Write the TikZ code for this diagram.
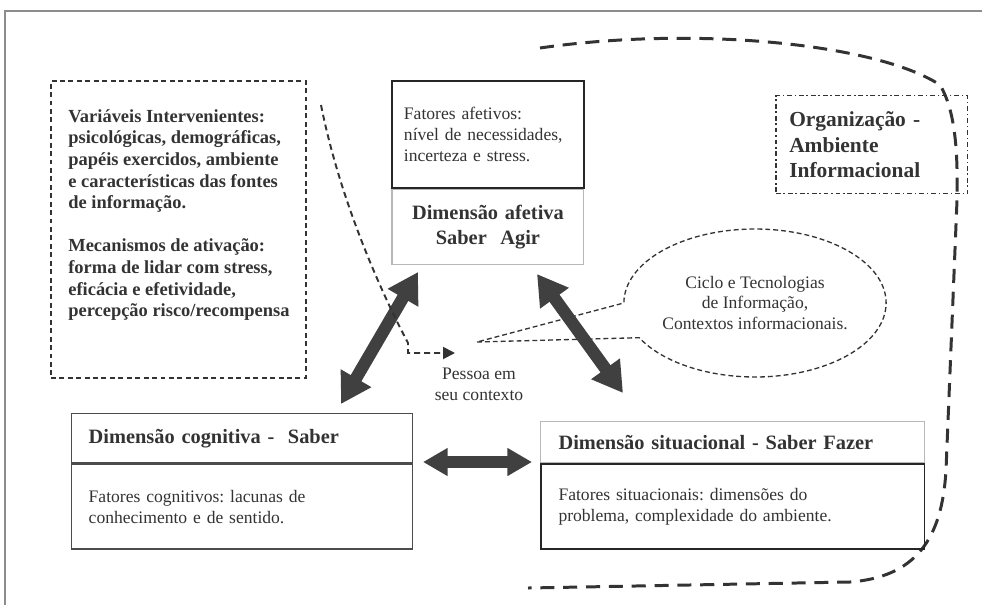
\documentclass[tikz,border=0pt]{standalone}
\usepackage{fontspec}
\setmainfont{Liberation Serif}
\usetikzlibrary{positioning,arrows.meta,shapes.callouts}
\frenchspacing
\hyphenpenalty=10000

\definecolor{inkgray}{HTML}{333333}
\definecolor{arrowgray}{HTML}{404040}
\definecolor{framegray}{HTML}{8C8C8C}
\definecolor{lightline}{HTML}{B8B8B8}

\tikzset{
  bodytext/.style={font=\fontsize{10}{11.9}\selectfont, text=inkgray},
  headtext/.style={font=\fontsize{11.6}{14}\selectfont\bfseries, text=inkgray},
  darkbox/.style={draw=black!85, line width=1.1pt, anchor=north west, inner sep=0pt, align=left, bodytext},
  lightbox/.style={draw=lightline, line width=0.6pt, anchor=north west, inner sep=0pt, align=left, bodytext},
  cogbox/.style={draw=black!70, line width=0.8pt, anchor=north west, inner sep=0pt, align=left, bodytext},
  varsbox/.style={draw=inkgray, line width=1pt, dash pattern=on 2.8pt off 2pt, anchor=north west, inner sep=0pt},
  varstext/.style={font=\fontsize{10.5}{12.3}\selectfont\bfseries, text=inkgray, align=left, inner sep=0pt},
  orgbox/.style={draw=inkgray, line width=0.85pt, dash pattern=on 2.8pt off 1.6pt on 0.8pt off 1.6pt,
    anchor=north west, inner sep=0pt, align=left, font=\fontsize{12.2}{14.6}\selectfont\bfseries, text=inkgray},
  bubble/.style={ellipse callout, draw=inkgray, line width=0.75pt, dash pattern=on 2.8pt off 1.7pt,
    minimum width=5.16cm, minimum height=2.96cm, inner sep=0pt, callout pointer arc=28, align=center, bodytext},
  orgcurve/.style={draw=inkgray, line width=1.7pt, dash pattern=on 8pt off 5pt},
  personarrow/.style={draw=inkgray, line width=1.1pt, dash pattern=on 3.4pt off 2.3pt, -{Triangle[length=6.8pt, width=6.8pt]}},
  bigarrow/.style={draw=arrowgray, line width=7pt, {Triangle[length=17pt, width=19pt]}-{Triangle[length=17pt, width=19pt]}},
  sidearrow/.style={draw=arrowgray, line width=6.5pt, {Triangle[length=14pt, width=15pt]}-{Triangle[length=14pt, width=15pt]}},
}

\begin{document}
\begin{tikzpicture}[x=0.02cm, y=-0.02cm]
  \useasboundingbox (0,0) rectangle (982,605);

  % frame
  \draw[framegray, line width=0.6pt] (982,11) -- (5,11) -- (5,605);

  % the organisation around the situational side
  \draw[orgcurve] (540,48) .. controls (700,25) and (880,45) .. (940,85)
    .. controls (955,110) and (958,150) .. (957,200)
    -- (946,470) .. controls (942,540) and (915,577) .. (850,582) -- (528,588);

  % intervening variables
  \node[varsbox, minimum width=5.10cm, minimum height=5.94cm] (vars) at (50,80) {};
  \node[varstext, below right=0.58cm and 0.36cm of vars.north west] (varsText)
    {Variáveis Intervenientes:\\psicológicas, demográficas,\\papéis exercidos, ambiente\\e características das fontes\\de informação.\\[12.3pt]
     Mecanismos de ativação:\\forma de lidar com stress,\\eficácia e efetividade,\\percepção risco/recompensa};

  % affective dimension
  \node[darkbox, text width=3.36cm, inner xsep=0.24cm, minimum height=2.14cm] (afBody) at (391,80)
    {Fatores afetivos:\\nível de necessidades,\\incerteza e stress.};
  \node[lightbox, headtext, align=center, text width=3.36cm, inner xsep=0.24cm, minimum height=1.50cm,
    below=0pt of afBody] (afHead) {Dimensão afetiva\\Saber~~Agir};

  % organisation label
  \node[orgbox, text width=3.3cm, inner xsep=0.27cm, minimum height=1.96cm] (org) at (775,95)
    {Organização -\\Ambiente\\Informacional};

  % cognitive dimension
  \node[cogbox, headtext, text width=6.14cm, inner xsep=0.34cm, minimum height=0.98cm] (cogHead) at (71,413)
    {Dimensão cognitiva -~~Saber};
  \node[cogbox, text width=6.14cm, inner xsep=0.34cm, minimum height=1.70cm, below=0pt of cogHead] (cogBody)
    {Fatores cognitivos: lacunas de\\conhecimento e de sentido.};

  % situational dimension
  \node[lightbox, headtext, text width=6.96cm, inner xsep=0.36cm, minimum height=0.82cm] (sitHead) at (540,421)
    {Dimensão situacional - Saber Fazer};
  \node[darkbox, text width=6.96cm, inner xsep=0.36cm, minimum height=1.70cm, below=0pt of sitHead] (sitBody)
    {Fatores situacionais: dimensões do\\problema, complexidade do ambiente.};

  % the person
  \node[bodytext, align=center, inner sep=0pt] (person) at (479,384) {Pessoa em\\seu contexto};
  \coordinate (curveStart) at (321,105);
  \coordinate (personIn) at (455,353);
  \coordinate (tailTip) at (477,342);

  % information context bubble
  \node[bubble, callout absolute pointer={(tailTip)}] (bubble) at (755,303)
    {Ciclo e Tecnologias\\de Informação,\\Contextos informacionais.};

  % arrow ends
  \coordinate (cogTip) at (341,404);
  \coordinate (afLeftTip) at (418,272);
  \coordinate (afRightTip) at (537,274);
  \coordinate (sitTip) at (623,393);
  \coordinate (cogSide) at (423,462);
  \coordinate (sitSide) at (532,462);

  % the arrows
  \draw[bigarrow] (cogTip) -- (afLeftTip);
  \draw[bigarrow] (afRightTip) -- (sitTip);
  \draw[sidearrow] (cogSide) -- (sitSide);
  \draw[personarrow] (curveStart) .. controls (340,200) and (380,290) .. (408,343) |- (personIn);
\end{tikzpicture}
\end{document}
